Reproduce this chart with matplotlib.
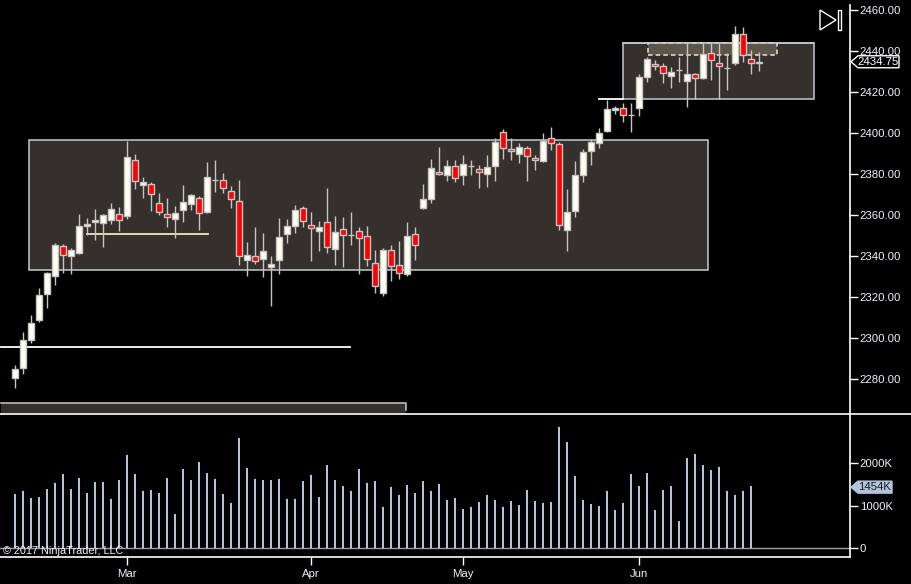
import matplotlib

matplotlib.use("Agg")
import matplotlib.pyplot as plt
from matplotlib.patches import Rectangle, Polygon
from matplotlib.lines import Line2D
from matplotlib.transforms import IdentityTransform

# daily ES bars, Feb -> Jun 2017
opens = [2280.5, 2285.4, 2299.0, 2308.9, 2321.6, 2330.4, 2345.0, 2340.2, 2341.6, 2354.6,
         2356.8, 2356.3, 2357.7, 2360.7, 2359.7, 2387.0, 2374.8, 2375.3, 2366.0, 2360.7,
         2358.1, 2362.6, 2365.5, 2368.5, 2361.6, 2377.0, 2377.3, 2371.9, 2367.0, 2338.2,
         2340.2, 2338.7, 2334.8, 2338.2, 2350.9, 2354.8, 2363.6, 2355.3, 2352.4, 2356.8,
         2343.6, 2353.3, 2350.2, 2352.4, 2349.9, 2336.7, 2322.1, 2343.1, 2335.8, 2331.4,
         2350.9, 2363.6, 2368.0, 2381.2, 2379.6, 2384.1, 2379.6, 2384.0, 2382.2, 2380.2,
         2384.1, 2400.7, 2392.4, 2390.0, 2392.9, 2388.0, 2386.4, 2397.8, 2394.4, 2352.9,
         2362.1, 2379.7, 2391.4, 2394.9, 2401.1, 2411.0, 2412.0, 2408.9, 2412.0, 2427.1,
         2433.5, 2432.5, 2427.6, 2430.5, 2425.6, 2428.6, 2426.6, 2438.8, 2434.0, 2431.5,
         2434.0, 2448.1, 2435.9, 2434.0]
highs = [2286.9, 2302.7, 2311.0, 2324.2, 2332.2, 2346.5, 2345.7, 2343.7, 2360.3, 2358.7,
         2362.8, 2360.7, 2365.7, 2363.8, 2396.2, 2389.6, 2378.4, 2376.0, 2370.6, 2368.2,
         2364.3, 2374.5, 2370.1, 2369.5, 2385.7, 2386.7, 2380.4, 2374.0, 2377.0, 2346.7,
         2354.0, 2351.1, 2339.8, 2358.4, 2357.9, 2364.7, 2364.6, 2361.3, 2356.9, 2373.0,
         2359.4, 2358.9, 2361.3, 2354.0, 2354.5, 2343.1, 2344.1, 2345.2, 2347.2, 2356.5,
         2354.0, 2375.0, 2387.2, 2393.1, 2386.7, 2386.7, 2389.2, 2386.7, 2384.3, 2389.2,
         2397.5, 2401.9, 2397.8, 2394.9, 2393.6, 2389.5, 2400.2, 2402.8, 2395.4, 2372.9,
         2386.2, 2392.4, 2397.3, 2402.4, 2416.0, 2413.1, 2414.7, 2414.7, 2428.7, 2436.9,
         2435.6, 2434.3, 2432.3, 2436.9, 2443.7, 2429.4, 2443.7, 2443.7, 2443.7, 2438.8,
         2452.2, 2451.9, 2440.5, 2439.3]
lows = [2275.5, 2282.2, 2297.5, 2307.7, 2314.6, 2325.7, 2331.7, 2331.2, 2341.1, 2350.1,
        2347.8, 2344.4, 2355.6, 2352.2, 2358.1, 2372.6, 2368.2, 2362.0, 2359.8, 2354.2,
        2348.8, 2356.6, 2362.6, 2352.7, 2361.0, 2371.3, 2370.8, 2363.4, 2335.6, 2330.2,
        2336.1, 2329.7, 2315.6, 2331.2, 2346.3, 2351.2, 2354.3, 2337.5, 2342.4, 2341.5,
        2335.6, 2334.6, 2345.4, 2331.2, 2335.1, 2321.9, 2320.5, 2327.8, 2328.8, 2330.2,
        2338.1, 2363.0, 2366.0, 2379.7, 2376.6, 2376.1, 2374.7, 2379.6, 2373.2, 2373.7,
        2376.6, 2387.5, 2386.6, 2385.6, 2376.6, 2382.0, 2385.9, 2391.8, 2352.9, 2342.6,
        2359.2, 2376.1, 2384.6, 2392.9, 2400.5, 2409.5, 2405.5, 2400.6, 2408.4, 2425.0,
        2430.7, 2424.2, 2422.1, 2425.0, 2412.8, 2416.5, 2426.3, 2425.8, 2416.7, 2420.9,
        2433.0, 2434.4, 2428.6, 2430.4]
closes = [2284.9, 2299.1, 2307.4, 2321.1, 2331.8, 2345.5, 2340.6, 2343.1, 2354.8, 2355.8,
          2357.7, 2360.2, 2363.1, 2357.7, 2388.5, 2376.6, 2376.3, 2370.4, 2361.6, 2359.2,
          2361.2, 2366.5, 2370.0, 2361.2, 2378.3, 2377.0, 2373.4, 2368.0, 2340.2, 2340.6,
          2337.7, 2342.6, 2336.2, 2349.4, 2354.8, 2362.6, 2357.3, 2353.8, 2354.3, 2344.5,
          2351.9, 2350.4, 2350.2, 2348.9, 2338.7, 2325.5, 2343.1, 2335.3, 2331.9, 2349.9,
          2345.5, 2368.0, 2383.1, 2380.2, 2384.1, 2378.1, 2385.1, 2384.0, 2381.2, 2383.6,
          2395.8, 2392.9, 2391.4, 2393.4, 2389.0, 2386.6, 2396.3, 2394.9, 2355.3, 2361.6,
          2379.7, 2390.9, 2395.8, 2400.2, 2411.5, 2412.0, 2409.0, 2408.9, 2427.4, 2435.9,
          2432.5, 2429.1, 2430.0, 2430.5, 2428.6, 2426.6, 2438.5, 2435.4, 2432.6, 2431.5,
          2448.1, 2437.9, 2434.0, 2434.75]

# volume in thousands of contracts (last bar has none drawn)
volume_k = [1276, 1346, 1183, 1206, 1393, 1533, 1743, 1393, 1650, 1300,
            1556, 1556, 1160, 1603, 2187, 1743, 1346, 1370, 1300, 1650,
            809, 1860, 1603, 2023, 1767, 1626, 1276, 1066, 2584, 1883,
            1626, 1603, 1603, 1626, 1160, 1160, 1580, 1720, 1206, 1953,
            1603, 1463, 1346, 1860, 1533, 1580, 973, 1440, 1253, 1479,
            1292, 1572, 1339, 1502, 1128, 1175, 918, 965, 1082, 1245,
            1128, 965, 1105, 1012, 1362, 1105, 1058, 1082, 2833, 2482,
            1689, 1128, 1035, 988, 1339, 895, 1058, 1735, 1455, 1759,
            895, 1362, 1455, 638, 2109, 2202, 1946, 1829, 1899, 1339,
            1245, 1339, 1454]

month_labels = ["Mar", "Apr", "May", "Jun"]
month_bars = [14, 37, 56, 78]
price_ticks = [2280, 2300, 2320, 2340, 2360, 2380, 2400, 2420, 2440, 2460]
vol_ticks = [0, 1000, 2000]
vol_tick_labels = ["0", "1000K", "2000K"]
last_price = 2434.75
last_volume_label = "1454K"

# drawn zones: (x0, x1, y0, y1) in bar index / price
range_zone = (1.83, 86.7, 2333.0, 2396.4)
top_zone = (76.1, 99.95, 2416.4, 2443.8)
dashed_zone = (79.2, 95.3, 2437.9, 2443.8)
bottom_zone = (-1.7, 48.9, 2264.9, 2268.3)
# horizontal lines: (x0, x1, price, color)
hlines = [(-1.7, 41.9, 2295.6, "white"),
          (9.1, 24.2, 2350.6, "#f3e3c3"),
          (73.1, 76.1, 2416.4, "white")]

W, H = 911, 584
BG = "black"
OUTLINE = "#c4c4c4"
UP = "#fffff0"
DOWN = "#ff0000"
ZONE_FC = "#35302b"
ZONE_EC = "#c3cad3"
VOL_C = "#b0c4de"
TXT = "#eef3fa"
FS = 8.2
AX_X = 850  # pixel of right axis line

plt.rcParams["font.family"] = ["Liberation Sans", "DejaVu Sans"]
fig = plt.figure(figsize=(W / 100, H / 100), dpi=100, facecolor=BG)

ax = fig.add_axes([0, 1 - 414 / H, AX_X / W, 414 / H], facecolor=BG)
axv = fig.add_axes([0, 1 - 557 / H, AX_X / W, (557 - 414) / H], facecolor=BG)

xl = (-14.67 / 8, (AX_X - 14.67) / 8)
for a in (ax, axv):
    a.set_xlim(*xl)
    for s in a.spines.values():
        s.set_visible(False)
ax.set_ylim(2262.93, 2464.88)
axv.set_ylim(-203, 3138)


# zones
def zone(a, z, fc, ec, ls="-", z_order=1):
    x0, x1, y0, y1 = z
    a.add_patch(Rectangle((x0, y0), x1 - x0, y1 - y0, fc=fc, ec=ec, lw=1.1,
                          ls=ls, zorder=z_order))


zone(ax, range_zone, ZONE_FC, ZONE_EC)
zone(ax, top_zone, ZONE_FC, ZONE_EC)
zone(ax, dashed_zone, "#5d554b", "#f0e4cc", ls=(0, (3, 2)), z_order=1.5)
# top edge of the dashed box sits on the solid zone border
ax.plot([top_zone[0], top_zone[1]], [top_zone[3], top_zone[3]], color=ZONE_EC, lw=1.1, zorder=1.6)
bx0, bx1, by0, by1 = bottom_zone
ax.add_patch(Rectangle((bx0, by0 - 5), bx1 - bx0, by1 - by0 + 5, fc=ZONE_FC, ec="none", zorder=1))
ax.plot([bx0, bx1, bx1], [by1, by1, by0], color=ZONE_EC, lw=1.1, zorder=1.2)
for x0, x1, y, c in hlines:
    ax.plot([x0, x1], [y, y], color=c, lw=1.3, zorder=1.3)

# candles
idx = list(range(len(opens)))
ax.vlines(idx, lows, highs, color=OUTLINE, lw=1.0, zorder=2)
bottoms = [min(o, c) for o, c in zip(opens, closes)]
heights = [abs(c - o) for o, c in zip(opens, closes)]
colors = [UP if c >= o else DOWN for o, c in zip(opens, closes)]
ax.bar(idx, heights, bottom=bottoms, width=0.72, color=colors, edgecolor=OUTLINE,
       linewidth=1.0, zorder=3)

# volume
axv.bar(range(len(volume_k)), volume_k, width=0.28, color=VOL_C, zorder=2)
axv.axhline(0, color="#a0a0a0", lw=1.0, zorder=1)

# axes ticks
ax.yaxis.tick_right()
ax.set_yticks(price_ticks)
ax.set_yticklabels([f"{p:.2f}" for p in price_ticks])
ax.set_xticks([])
ax.tick_params(axis="y", length=6, width=1, color="white", labelcolor=TXT,
               labelsize=FS, pad=1.0, direction="out")
axv.yaxis.tick_right()
axv.set_yticks(vol_ticks)
axv.set_yticklabels(vol_tick_labels)
axv.tick_params(axis="y", length=6, width=1, color="white", labelcolor=TXT,
                labelsize=FS, pad=1.0, direction="out")
axv.set_xticks(month_bars)
axv.set_xticklabels(month_labels)
axv.tick_params(axis="x", length=6, width=1, color="white", labelcolor=TXT,
                labelsize=FS, pad=2.5, direction="out")


def fx(px):
    return px / W


def fy(py):
    return 1 - py / H


# frame lines
fig.add_artist(Line2D([0, 1], [fy(414), fy(414)], color="white", lw=1.2))
fig.add_artist(Line2D([0, fx(AX_X)], [fy(557), fy(557)], color="white", lw=1.2))
fig.add_artist(Line2D([fx(AX_X), fx(AX_X)], [fy(5), fy(557)], color="white", lw=1.2))

# ">|" scroll icon
fig.add_artist(Polygon([(fx(820), fy(10)), (fx(836), fy(20)), (fx(820), fy(30))],
                       closed=True, fill=False, ec="white", lw=1.0))
fig.add_artist(Rectangle((fx(837.5), fy(30.3)), fx(3.2), 20 / H, fill=False, ec="white", lw=1.0))

fig.canvas.draw()
ident = IdentityTransform()


def axis_marker(a, yval, text, fc, ec, tc, width):
    xd = a.transAxes.transform((1, 0))[0]
    yd = a.transData.transform((0, yval))[1]
    h = 6
    pts = [(xd + 1, yd), (xd + 8, yd + h), (xd + 8 + width, yd + h),
           (xd + 8 + width, yd - h), (xd + 8, yd - h)]
    fig.add_artist(Polygon(pts, closed=True, fc=fc, ec=ec, lw=1.0, transform=ident, zorder=5))
    fig.text(xd + 8 + width / 2, yd, text, transform=ident, ha="center", va="center",
             color=tc, fontsize=FS, zorder=6)


axis_marker(ax, last_price, f"{last_price:.2f}", "black", "white", "white", 41)
axis_marker(axv, volume_k[-1] - 25, last_volume_label, VOL_C, VOL_C, "#1a1a1a", 34)

fig.text(fx(3), fy(551), "\u00a9 2017 NinjaTrader, LLC", color=TXT, fontsize=7.8,
         ha="left", va="center")

fig.savefig("out.png", dpi=100, facecolor=BG)
plt.close(fig)
